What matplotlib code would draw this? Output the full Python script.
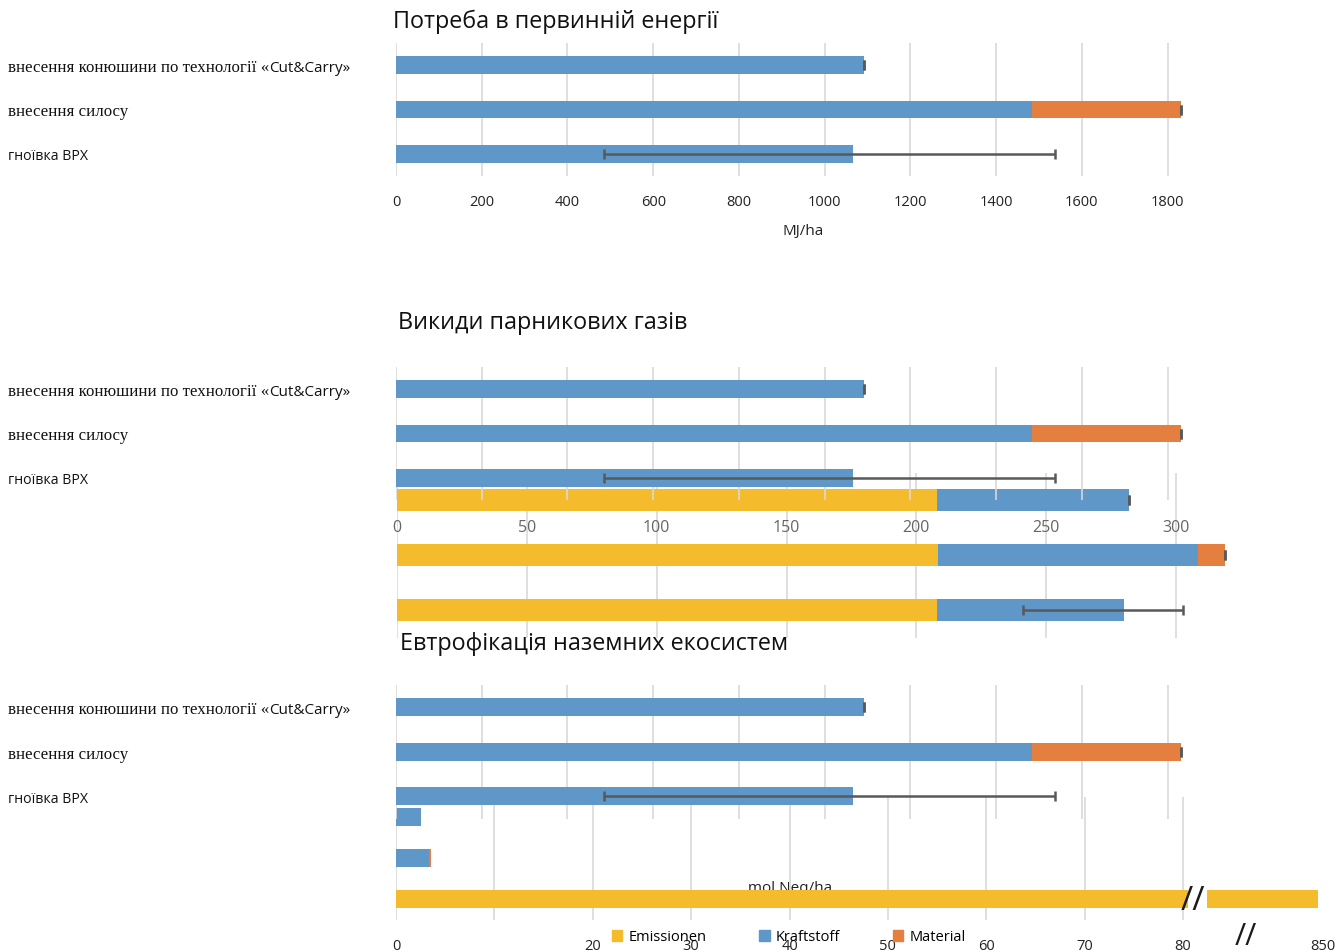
import matplotlib
matplotlib.use('Agg')
import matplotlib.pyplot as plt
from matplotlib.patches import Patch
from matplotlib.transforms import blended_transform_factory
import numpy as np

# ---------------- data ----------------
categories = ['внесення конюшини по технології «', 'внесення силосу', 'гноївка ВРХ']
cat_suffix = 'Cut&Carry»'
panel_titles = ['Потреба в первинній енергії', 'Викиди парникових газів',
                'Евтрофікація наземних екосистем']
series_names = ['Emissionen', 'Kraftstoff', 'Material']

energy_kraftstoff = [1092, 1484, 1066]
energy_material = [0, 348, 0]
energy_err_low = [0, 0, 581]
energy_err_high = [0, 0, 472]
energy_ticks = [0, 200, 400, 600, 800, 1000, 1200, 1400, 1600, 1800]
energy_unit = 'MJ/ha'

ghg_emissionen = [208, 208.3, 208]
ghg_kraftstoff = [74, 100, 72]
ghg_material = [0, 10.5, 0]
ghg_err_low = [0, 0, 39]
ghg_err_high = [0, 0, 22.7]
ghg_ticks = [0, 50, 100, 150, 200, 250, 300]

eut_emissionen = [0, 0, 849.5]
eut_kraftstoff = [2.5, 3.35, 0]
eut_material = [0, 0.2, 0]
eut_ticks = [0, 10, 20, 30, 40, 50, 60, 70, 80]
eut_tick_labels = ['0', '', '20', '30', '40', '50', '60', '70', '80']
eut_break_ticks = [850]
eut_unit = 'mol Neq/ha'

# ---------------- style ----------------
W, H = 1344, 953
SANS = ['Open Sans', 'DejaVu Sans']
SERIF = ['Liberation Serif', 'DejaVu Serif']
BLUE = '#5f97c9'
ORANGE = '#e47f40'
YELLOW = '#f4bc2d'
GRID = '#d9d9d9'
ERR = '#595959'

plt.rcParams['font.family'] = SANS
fig = plt.figure(figsize=(W / 100, H / 100), dpi=100)
fig.patch.set_facecolor('white')


def px_axes(x0, x1, ytop, ybot, z):
    ax = fig.add_axes([x0 / W, 1 - ybot / H, (x1 - x0) / W, (ybot - ytop) / H], zorder=z)
    ax.set_facecolor('none')
    for s in ax.spines.values():
        s.set_visible(False)
    return ax


def energy_panel(ytop, z, title, title_xy, show_ticks):
    ax = px_axes(396, 1189, ytop, ytop + 133.5, z)
    y = np.arange(len(categories))
    ax.barh(y, energy_kraftstoff, height=0.4, color=BLUE, zorder=2)
    ax.barh(y, energy_material, left=energy_kraftstoff, height=0.4, color=ORANGE, zorder=2)
    totals = np.add(energy_kraftstoff, energy_material)
    ax.errorbar(totals, y, xerr=[energy_err_low, energy_err_high], fmt='none',
                ecolor=ERR, elinewidth=1.8, capsize=3.5, capthick=1.8, zorder=3)
    ax.set_xlim(0, 1850)
    ax.set_ylim(2.5, -0.5)
    ax.set_xticks(energy_ticks)
    ax.set_yticks([])
    ax.grid(axis='x', color=GRID, lw=1.2)
    ax.set_axisbelow(True)
    ax.tick_params(axis='x', length=0, pad=13, labelsize=10.5, labelcolor='#222222')
    if show_ticks:
        ax.set_xlabel(energy_unit, fontsize=11, color='#222222')
        ax.xaxis.set_label_coords((803 - 396) / 793, -0.35)
    else:
        ax.set_xticklabels([])
    fig.text(title_xy[0] / W, 1 - title_xy[1] / H, title, fontsize=16.8,
             ha='left', va='center', color='#111111')
    tr = blended_transform_factory(fig.transFigure, ax.transData)
    for i, c in enumerate(categories):
        fam = SERIF if i < 2 else SANS
        fs = 12.2 if i < 2 else 10.2
        t = ax.text(8 / W, i, c, transform=tr, family=fam, fontsize=fs,
                    ha='left', va='center_baseline', color='#111111', clip_on=False)
        if i == 0:
            ax.annotate(cat_suffix, xy=(1, 0), xycoords=t, family=SANS, fontsize=11,
                        ha='left', va='bottom', color='#111111', annotation_clip=False)
    return ax


# ---- GHG chart (underlying) ----
axc = px_axes(397, 1228, 473.5, 638.5, 1)
yc = np.arange(3)
axc.barh(yc, ghg_emissionen, height=0.4, color=YELLOW, zorder=2)
axc.barh(yc, ghg_kraftstoff, left=ghg_emissionen, height=0.4, color=BLUE, zorder=2)
left_m = np.add(ghg_emissionen, ghg_kraftstoff)
axc.barh(yc, ghg_material, left=left_m, height=0.4, color=ORANGE, zorder=2)
tot_c = left_m + np.array(ghg_material)
axc.errorbar(tot_c, yc, xerr=[ghg_err_low, ghg_err_high], fmt='none', ecolor=ERR,
             elinewidth=1.8, capsize=3.5, capthick=1.8, zorder=3)
axc.set_xlim(0, 320)
axc.set_ylim(2.5, -0.5)
axc.set_xticks(ghg_ticks)
axc.set_yticks([])
axc.grid(axis='x', color=GRID, lw=1.2)
axc.set_axisbelow(True)
axc.tick_params(axis='x', length=0, labelbottom=False)
trc = blended_transform_factory(axc.transData, axc.transAxes)
for v in ghg_ticks:
    axc.text(v, (638.5 - 528) / 165, str(v), transform=trc, ha='center', va='center',
             fontsize=11.5, color='#666666', zorder=4)

# ---- Eutrophication chart (underlying) ----
axd = px_axes(396, 1188, 797.5, 920.5, 3)
axr = px_axes(1207, 1332, 797.5, 920.5, 3)
yd = np.arange(3)
for a in (axd, axr):
    a.barh(yd, eut_emissionen, height=0.44, color=YELLOW, zorder=2)
    a.barh(yd, eut_kraftstoff, left=eut_emissionen, height=0.44, color=BLUE, zorder=2)
    a.barh(yd, eut_material, left=np.add(eut_emissionen, eut_kraftstoff), height=0.44,
           color=ORANGE, zorder=2)
    a.set_ylim(2.5, -0.5)
    a.set_yticks([])
    a.tick_params(axis='x', length=0, pad=13, labelsize=10.5, labelcolor='#222222')
axd.set_xlim(0, 80.5)
axd.set_xticks(eut_ticks)
axd.set_xticklabels(eut_tick_labels)
axd.grid(axis='x', color=GRID, lw=1.2)
axd.set_axisbelow(True)
axr.set_xlim(838, 851)
axr.set_xticks(eut_break_ticks)
axd.text((790 - 396) / 792, 0.26, eut_unit, transform=axd.transAxes, ha='center',
         va='center', fontsize=11, color='#222222', zorder=0.5)
fig.text(1193 / W, 1 - 901 / H, '//', fontsize=24, ha='center',
         va='center', color='#1a1a1a', zorder=10)
fig.text(1246 / W, 1 - 937 / H, '//', fontsize=22, ha='center', va='center',
         color='#1a1a1a', zorder=10)

handles = [Patch(color=YELLOW), Patch(color=BLUE), Patch(color=ORANGE)]
fig.legend(handles, series_names, loc='center', bbox_to_anchor=(789 / W, 1 - 938 / H),
           ncol=3, frameon=False, fontsize=10.5, handlelength=0.7, handleheight=0.7,
           handletextpad=0.45, columnspacing=3.6)

# ---- three copies of the energy panel ----
energy_panel(43.75, 5, panel_titles[0], (393, 22), True)
energy_panel(367.75, 2, panel_titles[1], (398, 323), False)
energy_panel(686.0, 4, panel_titles[2], (400, 644), False)

fig.savefig('out.png', dpi=100, facecolor='white')
